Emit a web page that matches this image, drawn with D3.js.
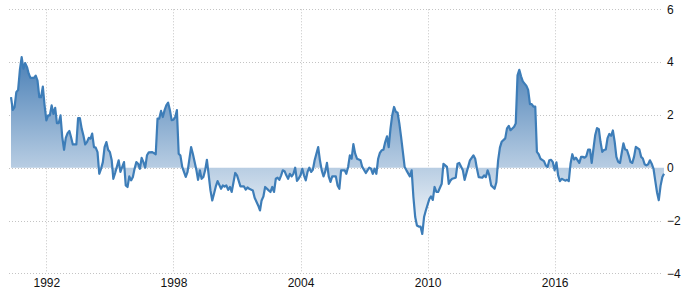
<!DOCTYPE html>
<html>
<head>
<meta charset="utf-8">
<script src="https://cdn.jsdelivr.net/npm/d3@7"></script>
<style>
  body { margin: 0; background: #fff; }
  svg { display: block; }
</style>
</head>
<body>
<div id="chart"></div>
<script>
/////////////////////////////////////////////////////
/////////////////////// Data ////////////////////////
/////////////////////////////////////////////////////

// One entry per reading (months without a visible vertex are skipped).
const dates = [
  "1990-05","1990-06","1990-07","1990-08","1990-09","1990-10","1990-11","1990-12",
  "1991-01","1991-02","1991-03","1991-04","1991-06","1991-07","1991-08","1991-09","1991-10","1991-11","1991-12",
  "1992-01","1992-02","1992-03","1992-04","1992-05","1992-06","1992-07","1992-08","1992-09","1992-10","1992-11","1992-12",
  "1993-01","1993-02","1993-03","1993-04","1993-06","1993-07","1993-08","1993-09","1993-10","1993-11","1993-12",
  "1994-01","1994-02","1994-03","1994-04","1994-05","1994-06","1994-07","1994-08","1994-09","1994-10","1994-11","1994-12",
  "1995-01","1995-02","1995-03","1995-04","1995-06","1995-07","1995-09","1995-10","1995-11","1995-12",
  "1996-01","1996-02","1996-03","1996-04","1996-05","1996-06","1996-07","1996-08","1996-09","1996-10","1996-11",
  "1997-01","1997-03","1997-04","1997-05","1997-06","1997-07","1997-08","1997-09","1997-10","1997-11","1997-12",
  "1998-01","1998-02","1998-03","1998-04","1998-05","1998-06","1998-07","1998-08","1998-09","1998-11","1998-12",
  "1999-02","1999-03","1999-04","1999-05","1999-06","1999-07","1999-08","1999-09","1999-10","1999-11","1999-12",
  "2000-01","2000-02","2000-04","2000-05","2000-06","2000-07","2000-08","2000-09","2000-10","2000-12",
  "2001-01","2001-03","2001-05","2001-06","2001-07","2001-08","2001-10","2001-11",
  "2002-01","2002-02","2002-03","2002-04","2002-05","2002-07","2002-08","2002-09","2002-10","2002-11","2002-12",
  "2003-01","2003-02","2003-03","2003-04","2003-05","2003-06","2003-07","2003-08","2003-09","2003-10","2003-11","2003-12",
  "2004-01","2004-02","2004-03","2004-04","2004-05","2004-06","2004-07","2004-08","2004-09","2004-11","2004-12",
  "2005-01","2005-02","2005-03","2005-04","2005-05","2005-06","2005-07","2005-09","2005-10","2005-11","2005-12",
  "2006-02","2006-03","2006-04","2006-05","2006-06","2006-07","2006-08","2006-09","2006-11","2006-12",
  "2007-02","2007-03","2007-04","2007-05","2007-06","2007-07","2007-08","2007-09","2007-10","2007-11","2007-12",
  "2008-01","2008-02","2008-03","2008-04","2008-05","2008-06","2008-07","2008-08","2008-09","2008-10","2008-11","2008-12",
  "2009-01","2009-03","2009-04","2009-05","2009-06","2009-07","2009-08","2009-09","2009-10","2009-11","2009-12",
  "2010-02","2010-03","2010-04","2010-05","2010-06","2010-07","2010-09","2010-10","2010-11","2010-12",
  "2011-01","2011-02","2011-03","2011-05","2011-06","2011-07","2011-09","2011-10","2011-12",
  "2012-01","2012-03","2012-04","2012-05","2012-06","2012-08","2012-09","2012-10","2012-11","2012-12",
  "2013-01","2013-03","2013-04","2013-05","2013-06","2013-07","2013-09","2013-10","2013-11","2013-12",
  "2014-02","2014-03","2014-04","2014-05","2014-06","2014-07","2014-09","2014-10","2014-11","2014-12",
  "2015-01","2015-02","2015-03","2015-04","2015-05","2015-07","2015-08","2015-09","2015-10","2015-11","2015-12",
  "2016-01","2016-02","2016-03","2016-04","2016-05","2016-07","2016-08","2016-09","2016-10","2016-11","2016-12",
  "2017-01","2017-02","2017-03","2017-04","2017-05","2017-06","2017-07","2017-08","2017-09","2017-10","2017-11","2017-12",
  "2018-01","2018-02","2018-03","2018-04","2018-05","2018-06","2018-07","2018-08","2018-09","2018-10","2018-11","2018-12",
  "2019-01","2019-02","2019-03","2019-04","2019-05","2019-06","2019-07","2019-08","2019-09","2019-10","2019-11",
  "2020-01","2020-02","2020-03","2020-04","2020-05","2020-06","2020-07","2020-08","2020-09","2020-10","2020-11","2020-12",
  "2021-01","2021-02","2021-03"
];

const values = [
  2.67, 2.19, 2.29, 2.86, 2.95, 3.7, 4.19, 3.75,
  3.96, 3.81, 3.57, 3.40, 3.40, 3.49, 3.3, 2.67, 2.67, 3.07, 2.36,
  1.79, 1.98, 1.98, 2.36, 2.04, 2.27, 1.69, 1.69, 1.98, 1.16, 0.68, 1.13,
  1.31, 1.39, 1.16, 0.88, 0.88, 1.88, 1.88, 1.48, 1.22, 0.88, 0.97,
  1.13, 1.10, 1.29, 0.78, 0.76, 0.59, -0.23, -0.04, 0.21, 0.78, 0.97, 0.68,
  0.59, 0.28, -0.42, -0.2, 0.28, -0.16, 0.21, -0.67, -0.73, -0.33,
  -0.48, -0.35, -0.04, 0.21, 0.15, -0.04, 0.37, 0.21, 0, 0.47, 0.58,
  0.59, 0.51, 1.86, 1.86, 2.15, 1.92, 2.18, 2.37, 2.46, 2.18, 1.80,
  1.82, 1.92, 2.18, 0.53, 0.46, 0.03, -0.16, -0.35, -0.16, 0.78, 0.53,
  -0.1, -0.46, -0.1, -0.42, -0.35, -0.1, 0.30, -0.29, -0.86, -1.24, -0.99,
  -0.71, -0.51, -0.80, -0.67, -0.72, -0.67, -0.84, -0.73, -0.92, -0.20,
  -0.29, -0.71, -0.71, -0.83, -0.75, -0.80, -0.86, -1.14,
  -1.43, -1.62, -1.24, -1.09, -0.73, -0.86, -0.92, -0.73, -0.92, -0.42, -0.38,
  -0.46, -0.29, -0.10, -0.13, -0.29, -0.42, -0.23, -0.33, -0.23, 0, -0.5, -0.41,
  -0.29, -0.04, -0.29, -0.48, -0.16, 0, -0.16, -0.08, 0.28, 0.78, 0.28,
  -0.10, -0.33, -0.16, 0.18, -0.33, -0.54, -0.33, -0.33, -0.67, -0.80, -0.10,
  -0.10, -0.23, 0.03, 0.47, 0.34, 0.89, 0.53, 0.34, 0.28, 0.03,
  -0.20, -0.10, 0, -0.04, -0.23, -0.04, -0.23, 0.34, 0.56, 0.66, 0.68,
  0.97, 1.19, 0.78, 1.48, 1.99, 2.30, 2.12, 2.08, 1.67, 1.16, 0.59, 0.03,
  -0.10, -0.33, -0.10, -1.11, -1.87, -2.19, -2.23, -2.23, -2.51, -1.87, -1.62,
  -1.18, -1.09, -1.22, -0.73, -0.92, -0.92, -0.61, 0.15, 0.09, 0.03,
  -0.61, -0.48, -0.42, -0.38, 0.15, 0.18, -0.10, -0.46, 0.03,
  0.28, 0.47, 0.34, -0.04, -0.36, -0.38, -0.29, -0.36, -0.10, -0.29,
  -0.67, -0.80, -0.55, 0.28, 0.76, 0.98, 1.11, 1.49, 1.58, 1.42,
  1.55, 1.68, 3.5, 3.71, 3.46, 3.27, 3.10, 2.95, 2.41, 2.41,
  2.31, 2.31, 0.60, 0.51, 0.34, 0.25, 0.09, 0.03, 0.28, 0.30, 0.21,
  -0.1, 0.2, -0.29, -0.51, -0.42, -0.49, -0.46, -0.51, 0.15, 0.51, 0.31,
  0.38, 0.28, 0.18, 0.41, 0.41, 0.38, 0.44, 0.69, 0.69, 0.18, 0.73, 1.24,
  1.5, 1.46, 0.99, 0.60, 0.67, 0.69, 1.12, 1.28, 1.21, 1.41, 0.99, 0.41,
  0.22, 0.18, 0.54, 0.92, 0.69, 0.67, 0.47, 0.22, 0.18, 0.41, 0.79,
  0.69, 0.41, 0.35, 0.13, 0.09, 0.13, 0.28, 0.15, -0.04, -0.49, -0.94, -1.23,
  -0.68, -0.35, -0.23
];

// Axis ticks
const tick_years  = [1992, 1998, 2004, 2010, 2016];
const tick_values = [-4, -2, 0, 2, 4, 6];

/////////////////////////////////////////////////////
///////////////////// Constants /////////////////////
/////////////////////////////////////////////////////

const width  = 689;
const height = 308;

const plot = { left: 9, right: 663, top: 9.3, bottom: 273.3 };

const line_color = '#3d7db8';
const grid_color = '#c4c4c4';
const text_color = '#111';

const parse_month = d3.timeParse("%Y-%m");
const series = dates.map((d, i) => ({ date: parse_month(d), value: values[i] }));

const svg = d3.select("div#chart")
  .append("svg")
  .attr("width", width)
  .attr("height", height);

// Data runs a couple of pixels inside the grid on the left
const x = d3.scaleTime()
  .domain(d3.extent(series, d => d.date))
  .range([11, 664]);

const y = d3.scaleLinear()
  .domain([-4, 6])
  .range([plot.bottom, plot.top]);

// Gradient for the area: blue at the top fading to white at the bottom
const gradient = svg.append("defs").append("linearGradient")
  .attr("id", "area_fill")
  .attr("gradientUnits", "userSpaceOnUse")
  .attr("x1", 0).attr("x2", 0)
  .attr("y1", y(4.6)).attr("y2", y(-2.7));

gradient.append("stop").attr("offset", 0).attr("stop-color", "#3f78b2");
gradient.append("stop").attr("offset", 1).attr("stop-color", "#ffffff");

/////////////////////////////////////////////////////
////////////////////// Grid /////////////////////////
/////////////////////////////////////////////////////

const grid = svg.append("g").attr("class", "grid");

grid.selectAll("line.h")
  .data(tick_values)
  .enter().append("line")
  .attr("class", "h")
  .attr("x1", plot.left)
  .attr("x2", plot.right)
  .attr("y1", d => Math.round(y(d)) + 0.5)
  .attr("y2", d => Math.round(y(d)) + 0.5)
  .attr("stroke", grid_color)
  .attr("stroke-dasharray", "1,2");

grid.selectAll("line.v")
  .data(tick_years)
  .enter().append("line")
  .attr("class", "v")
  .attr("x1", d => Math.round(x(new Date(d, 0, 1))) + 0.5)
  .attr("x2", d => Math.round(x(new Date(d, 0, 1))) + 0.5)
  .attr("y1", plot.top)
  .attr("y2", plot.bottom)
  .attr("stroke", grid_color)
  .attr("stroke-dasharray", "1,2");

/////////////////////////////////////////////////////
////////////////////// Series ///////////////////////
/////////////////////////////////////////////////////

const area = d3.area()
  .x(d => x(d.date))
  .y0(y(0))
  .y1(d => y(d.value));

const line = d3.line()
  .x(d => x(d.date))
  .y(d => y(d.value));

svg.append("path")
  .datum(series)
  .attr("d", area)
  .attr("fill", "url(#area_fill)");

svg.append("path")
  .datum(series)
  .attr("d", line)
  .attr("fill", "none")
  .attr("stroke", line_color)
  .attr("stroke-width", 2.2)
  .attr("stroke-linejoin", "round");

/////////////////////////////////////////////////////
////////////////////// Axes /////////////////////////
/////////////////////////////////////////////////////

const x_axis = d3.axisBottom(x)
  .tickValues(tick_years.map(d => new Date(d, 0, 1)))
  .tickFormat(d3.timeFormat("%Y"))
  .tickSize(0)
  .tickPadding(0);

svg.append("g")
  .attr("transform", `translate(0,${plot.bottom + 5})`)
  .call(x_axis)
  .call(g => g.select(".domain").remove())
  .selectAll("text")
  .attr("fill", text_color)
  .style("font-family", "Arial, 'Liberation Sans', sans-serif")
  .style("font-size", "12px");

const y_axis = d3.axisRight(y)
  .tickValues(tick_values)
  .tickFormat(d3.format("d"))
  .tickSize(0)
  .tickPadding(0);

svg.append("g")
  .attr("transform", `translate(${plot.right + 4},0)`)
  .call(y_axis)
  .call(g => g.select(".domain").remove())
  .selectAll("text")
  .attr("fill", text_color)
  .style("font-family", "Arial, 'Liberation Sans', sans-serif")
  .style("font-size", "12px");
</script>
</body>
</html>
